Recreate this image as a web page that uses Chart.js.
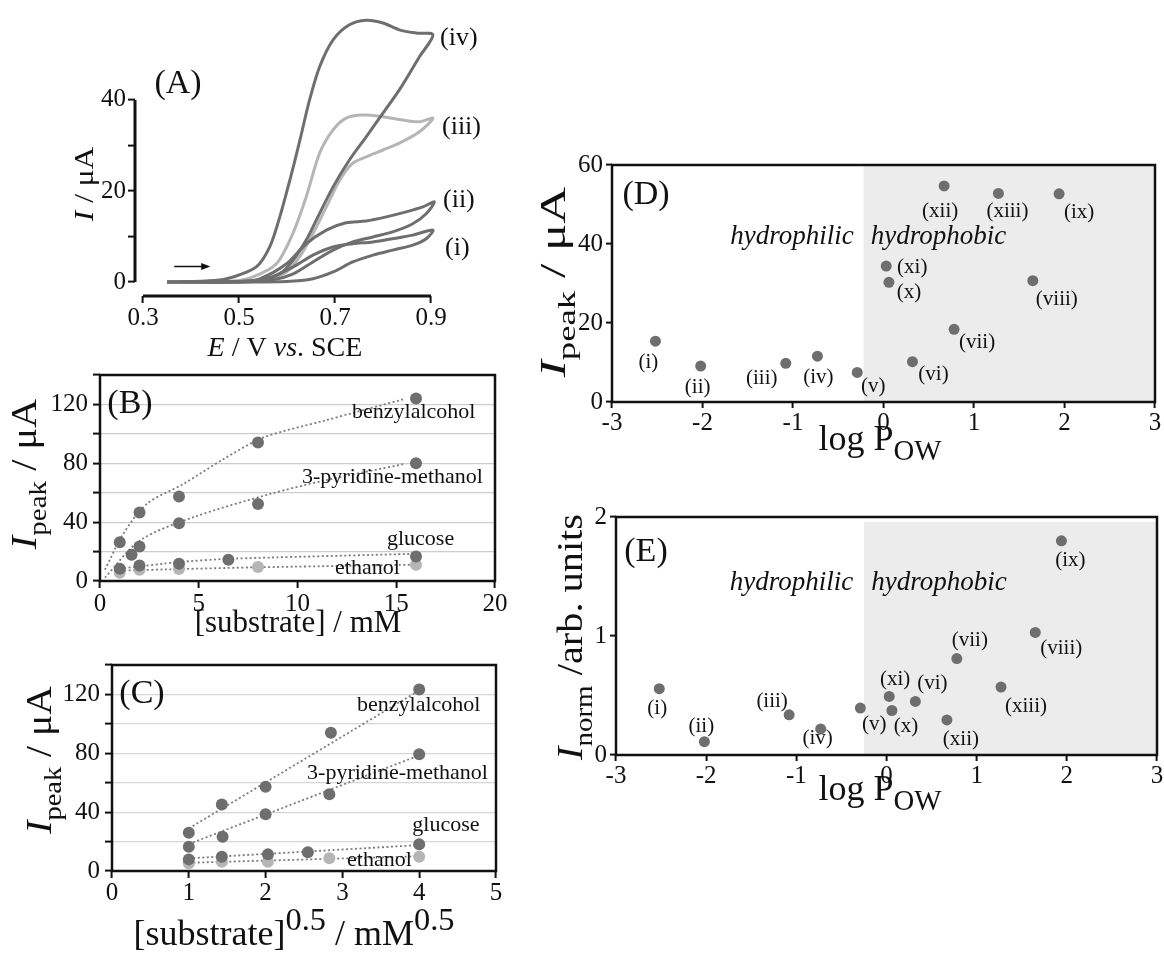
<!DOCTYPE html>
<html>
<head>
<meta charset="utf-8">
<script src="https://cdn.jsdelivr.net/npm/chart.js@4.4.1/dist/chart.umd.min.js"></script>
<style>
  html, body { margin: 0; padding: 0; background: #fff; }
  #fig { position: relative; width: 1164px; height: 953px; overflow: hidden; background: #fff; }
  #fig canvas { position: absolute; left: 0; top: 0; }
</style>
</head>
<body>
<div id="fig">
  <canvas id="cA" width="1164" height="953"></canvas>
  <canvas id="cB" width="1164" height="953"></canvas>
  <canvas id="cC" width="1164" height="953"></canvas>
  <canvas id="cD" width="1164" height="953"></canvas>
  <canvas id="cE" width="1164" height="953"></canvas>
</div>
<script>
/* ---------- data ---------- */

/* (A) cyclic voltammograms, forward sweep then reverse sweep */
var CV1_E = [0.35, 0.5, 0.557, 0.613, 0.654, 0.696, 0.737, 0.779, 0.82, 0.862, 0.904, 0.89, 0.862, 0.82, 0.779, 0.737, 0.696, 0.654, 0.599, 0.5, 0.35];
var CV1_I = [0, 0.1, 0.7, 3.3, 5.9, 7.7, 8.4, 8.8, 9.5, 10.3, 11.4, 9.5, 8.1, 7.0, 5.9, 4.4, 2.2, 0.7, 0.1, 0, 0];
var CV2_E = [0.35, 0.5, 0.543, 0.599, 0.64, 0.682, 0.723, 0.765, 0.807, 0.848, 0.883, 0.907, 0.89, 0.862, 0.82, 0.779, 0.737, 0.696, 0.654, 0.613, 0.571, 0.5, 0.35];
var CV2_I = [0, 0.1, 0.7, 4.0, 8.4, 11.4, 13.0, 13.4, 14.3, 15.4, 16.5, 17.6, 15.0, 12.8, 11.0, 9.9, 8.8, 7.0, 4.4, 1.8, 0.5, 0, 0];
var CV3_E = [0.35, 0.488, 0.529, 0.578, 0.612, 0.64, 0.668, 0.696, 0.723, 0.758, 0.8, 0.834, 0.876, 0.904, 0.876, 0.834, 0.8, 0.765, 0.737, 0.71, 0.682, 0.654, 0.626, 0.599, 0.557, 0.488, 0.35];
var CV3_I = [0, 0.2, 1.1, 4.0, 10.6, 18.7, 28.3, 33.4, 36.0, 36.7, 36.3, 35.7, 35.2, 36.0, 33.0, 30.5, 29.0, 27.5, 26.1, 22.4, 16.5, 10.6, 5.5, 2.2, 0.5, 0, 0];
var CV4_E = [0.35, 0.45, 0.488, 0.536, 0.564, 0.585, 0.606, 0.627, 0.647, 0.668, 0.696, 0.73, 0.765, 0.8, 0.834, 0.869, 0.904, 0.876, 0.834, 0.8, 0.765, 0.73, 0.696, 0.661, 0.64, 0.613, 0.585, 0.543, 0.488, 0.35];
var CV4_I = [0, 0.3, 1.1, 3.3, 7.7, 14.3, 22.4, 31.2, 40, 47.3, 53.2, 56.5, 57.5, 56.9, 55.4, 54.7, 54.3, 49.5, 42.2, 37.1, 31.9, 26.8, 20.9, 13.6, 9.2, 4.8, 1.8, 0.4, 0, 0];
var CV_LABELS = ['(i)', '(ii)', '(iii)', '(iv)'];
var A_X_TICKS = [0.3, 0.5, 0.7, 0.9];
var A_Y_TICKS = [0, 10, 20, 30, 40];

/* (B) peak current vs concentration */
var SUBSTRATES = ['benzylalcohol', '3-pyridine-methanol', 'glucose', 'ethanol'];
var B_BENZ_X = [1, 2, 4, 8, 16],   B_BENZ_Y = [26.4, 46.6, 57.4, 94.2, 124];
var B_PYR_X = [1.6, 2, 4, 8, 16],  B_PYR_Y = [17.9, 23.5, 39.3, 52.4, 80];
var B_GLU_X = [1, 2, 4, 6.5, 16],  B_GLU_Y = [8.4, 10.6, 11.8, 14.5, 16.7];
var B_ETH_X = [1, 2, 4, 8, 16],    B_ETH_Y = [5.6, 7.7, 8.1, 9.5, 11.1];
/* dotted guide curves */
var B_BENZ_FIT_X = [0.25, 1.18, 2.37, 4.23, 6.26, 8.29, 11.34, 15.4];
var B_BENZ_FIT_Y = [7.7, 32.1, 52.4, 66.0, 82.9, 97.6, 108.9, 123.6];
var B_PYR_FIT_X = [0.25, 2.03, 4.74, 8.63, 11.34, 15.4];
var B_PYR_FIT_Y = [2.3, 27.6, 43.4, 59.2, 68.2, 79.5];
var B_GLU_FIT_X = [1, 4, 6.5, 16], B_GLU_FIT_Y = [8.4, 12.9, 15.1, 18.5];
var B_ETH_FIT_X = [1, 4, 8, 16],   B_ETH_FIT_Y = [7.0, 8.1, 9.3, 11.1];

/* (C) peak current vs sqrt(concentration) */
var C_BENZ_X = [1, 1.43, 2, 2.85, 4],    C_BENZ_Y = [26.0, 45.2, 57.2, 94.0, 123.4];
var C_PYR_X = [1, 1.44, 2, 2.83, 4],     C_PYR_Y = [16.5, 23.3, 38.6, 52.2, 79.3];
var C_GLU_X = [1, 1.43, 2.03, 2.55, 4],  C_GLU_Y = [7.9, 9.7, 11.3, 12.7, 18.1];
var C_ETH_X = [1, 1.43, 2.03, 2.83, 4],  C_ETH_Y = [5.2, 6.3, 6.3, 8.6, 9.7];
var C_BENZ_FIT_Y = [28.9, 122.7], C_PYR_FIT_Y = [18.3, 78.6];
var C_GLU_FIT_Y = [8.6, 17.6],    C_ETH_FIT_Y = [5.6, 10.0];
var C_FIT_X = [1, 4];

/* (D)/(E) vs log P_OW */
var COMPOUNDS = ['(i)', '(ii)', '(iii)', '(iv)', '(v)', '(vi)', '(vii)', '(viii)', '(ix)', '(x)', '(xi)', '(xii)', '(xiii)'];
var LOG_POW = [-2.52, -2.02, -1.08, -0.73, -0.29, 0.32, 0.78, 1.65, 1.94, 0.06, 0.03, 0.67, 1.27];
var D_IPEAK = [15.4, 9.1, 9.8, 11.6, 7.5, 10.2, 18.4, 30.7, 52.7, 30.3, 34.4, 54.7, 52.8];
var E_INORM = [0.557, 0.112, 0.338, 0.219, 0.394, 0.45, 0.81, 1.03, 1.80, 0.374, 0.492, 0.295, 0.571];

/* ---------- look ---------- */
var W = 1164, H = 953;
var SERIF = '"Liberation Serif", "Times New Roman", serif';
var INK = '#111111';
var DARK = '#6e6e6e';
var LIGHT = '#b5b5b5';
var GUIDE = '#7c7c7c';
var SHADE = '#ececec';

function pts(xs, ys) {
  return xs.map(function (x, i) { return { x: x, y: ys[i] }; });
}

function curve(xs, ys, color) {
  return { data: pts(xs, ys), showLine: true, pointRadius: 0, borderColor: color,
           borderWidth: 3, tension: 0.3, clip: false, borderJoinStyle: 'round' };
}
function dots(xs, ys, color, r) {
  return { data: pts(xs, ys), pointRadius: r || 6, pointBackgroundColor: color,
           pointBorderWidth: 0, borderWidth: 0, clip: false };
}
function guide(xs, ys, tension) {
  return { data: pts(xs, ys), showLine: true, pointRadius: 0, borderColor: GUIDE,
           borderWidth: 1.8, borderDash: [2, 2.5], tension: tension || 0 };
}

function scale(o) {
  var s = {
    type: 'linear', min: o.min, max: o.max,
    border: { display: false },
    grid: { display: true, drawOnChartArea: !!o.gridColor, color: o.gridColor || 'rgba(0,0,0,0)',
            lineWidth: 1.2, drawTicks: true, tickLength: o.tickLength || 7,
            tickColor: INK, tickWidth: 2 },
    ticks: { stepSize: o.step, autoSkip: false, maxRotation: 0, minRotation: 0,
             padding: o.pad == null ? 3 : o.pad, color: INK,
             font: { family: SERIF, size: o.font || 25 } }
  };
  if (o.cb) s.ticks.callback = o.cb;
  if (o.list) s.afterBuildTicks = function (sc) {
    sc.ticks = o.list.map(function (v) { return { value: v }; });
  };
  return s;
}

/* extras drawn on top of the library's scales: frames, shading, notes, rich titles */
function richText(ctx, t) {
  ctx.save();
  ctx.translate(t.x, t.y);
  if (t.rot) ctx.rotate(-Math.PI / 2);
  ctx.scale(t.sx || 1, 1);
  ctx.fillStyle = INK;
  ctx.textBaseline = t.mid ? 'middle' : 'alphabetic';
  ctx.textAlign = 'left';
  var segs = t.parts.map(function (p) {
    var sz = (p.sub || p.sup) ? t.size * (t.subScale || 0.72) : t.size;
    var font = (p.it ? 'italic ' : '') + sz + 'px ' + SERIF;
    ctx.font = font;
    return { p: p, font: font, w: ctx.measureText(p.t).width,
             dy: p.sub ? t.size * 0.28 : (p.sup ? -t.size * 0.42 : 0) };
  });
  var total = segs.reduce(function (a, s) { return a + s.w; }, 0);
  var x = -total / 2;
  segs.forEach(function (s) {
    ctx.font = s.font;
    ctx.fillText(s.p.t, x, s.dy);
    x += s.w;
  });
  ctx.restore();
}

Chart.register({
  id: 'figExtras',
  beforeDatasetsDraw: function (chart) {
    var f = chart.$fig; if (!f || !f.shade) return;
    var xs = chart.scales.x, ys = chart.scales.y, ctx = chart.ctx, s = f.shade;
    var x0 = xs.getPixelForValue(s.x0), x1 = xs.getPixelForValue(s.x1);
    var y0 = ys.getPixelForValue(s.y0), y1 = ys.getPixelForValue(s.y1);
    ctx.save();
    ctx.fillStyle = SHADE;
    ctx.fillRect(x0, y1, x1 - x0, y0 - y1);
    ctx.restore();
  },
  afterDatasetsDraw: function (chart) {
    var f = chart.$fig; if (!f) return;
    var ctx = chart.ctx, a = chart.chartArea, xs = chart.scales.x, ys = chart.scales.y;
    ctx.save();
    ctx.strokeStyle = INK;
    ctx.lineCap = 'butt';
    if (f.frame) {
      ctx.lineWidth = 2.5;
      ctx.strokeRect(a.left, a.top, a.right - a.left, a.bottom - a.top);
    }
    if (f.axes) {
      ctx.lineWidth = 3;
      ctx.beginPath();
      ctx.moveTo(a.left, ys.getPixelForValue(f.axes.y0));
      ctx.lineTo(a.left, ys.getPixelForValue(f.axes.y1));
      ctx.moveTo(xs.getPixelForValue(f.axes.x0), a.bottom);
      ctx.lineTo(xs.getPixelForValue(f.axes.x1), a.bottom);
      ctx.stroke();
    }
    if (f.arrow) {
      var ax0 = xs.getPixelForValue(f.arrow.x0), ax1 = xs.getPixelForValue(f.arrow.x1);
      var ay = ys.getPixelForValue(f.arrow.y);
      ctx.lineWidth = 1.6;
      ctx.beginPath(); ctx.moveTo(ax0, ay); ctx.lineTo(ax1 - 2, ay); ctx.stroke();
      ctx.fillStyle = INK;
      ctx.beginPath(); ctx.moveTo(ax1, ay); ctx.lineTo(ax1 - 9, ay - 3.5); ctx.lineTo(ax1 - 9, ay + 3.5);
      ctx.closePath(); ctx.fill();
    }
    (f.notes || []).forEach(function (n) {
      ctx.font = (n.it ? 'italic ' : '') + n.size + 'px ' + SERIF;
      ctx.fillStyle = INK;
      ctx.textAlign = n.align || 'center';
      ctx.textBaseline = 'middle';
      ctx.fillText(n.text, xs.getPixelForValue(n.x) + (n.dx || 0), ys.getPixelForValue(n.y) + (n.dy || 0));
    });
    ctx.restore();
    (f.titles || []).forEach(function (t) { richText(ctx, t); });
  }
});

function panel(id, area, xScale, yScale, datasets, fig) {
  xScale.afterFit = function (s) { s.height = H - area.bottom; };
  yScale.afterFit = function (s) { s.width = area.left; };
  var chart = new Chart(document.getElementById(id).getContext('2d'), {
    type: 'scatter',
    data: { datasets: datasets },
    options: {
      responsive: false, animation: false, events: [],
      layout: { padding: { left: 0, top: area.top, right: W - area.right, bottom: 0 } },
      plugins: { legend: { display: false }, tooltip: { enabled: false } },
      scales: { x: xScale, y: yScale }
    }
  });
  chart.$fig = fig;
  chart.draw();
  return chart;
}

var IPEAK_TITLE = [{ t: 'I', it: true }, { t: 'peak', sub: true }, { t: ' / μA' }];
var LOGP_TITLE = [{ t: 'log P' }, { t: 'OW', sub: true }];

/* ---------- (A) ---------- */
panel('cA', { left: 135, right: 431, top: 18, bottom: 296 },
  scale({ min: 0.2833, max: 0.9, list: A_X_TICKS, pad: 0, cb: function (v) { return v.toFixed(1); } }),
  scale({ min: -3.08, max: 58, list: A_Y_TICKS, pad: 2, cb: function (v) { return v % 20 === 0 ? String(v) : ''; } }),
  [curve(CV1_E, CV1_I, DARK), curve(CV2_E, CV2_I, DARK), curve(CV4_E, CV4_I, DARK), curve(CV3_E, CV3_I, LIGHT)],
  {
    axes: { y0: 0, y1: 40, x0: 0.3, x1: 0.9 },
    arrow: { x0: 0.365, x1: 0.44, y: 3.4 },
    notes: [
      { x: 0.9, y: 7.5, text: CV_LABELS[0], dx: 14, size: 26, align: 'left' },
      { x: 0.9, y: 18, text: CV_LABELS[1], dx: 12, size: 26, align: 'left' },
      { x: 0.9, y: 34, text: CV_LABELS[2], dx: 11, size: 26, align: 'left' },
      { x: 0.9, y: 53.6, text: CV_LABELS[3], dx: 9, size: 26, align: 'left' }
    ],
    titles: [
      { x: 178, y: 84, size: 34, mid: true, parts: [{ t: '(A)' }] },
      { x: 93, y: 184, rot: true, size: 28, sx: 1.12, parts: [{ t: 'I', it: true }, { t: ' / μA' }] },
      { x: 285, y: 356, size: 28, parts: [{ t: 'E', it: true }, { t: ' / V ' }, { t: 'vs', it: true }, { t: '. SCE' }] }
    ]
  });

/* ---------- (B) ---------- */
var b40 = function (v) { return v % 40 === 0 ? String(v) : ''; };
panel('cB', { left: 100, right: 495, top: 375, bottom: 581 },
  scale({ min: 0, max: 20, step: 5, pad: 1 }),
  scale({ min: 0, max: 140, step: 20, pad: 5, gridColor: '#cdcdcd', cb: b40 }),
  [
    dots(B_BENZ_X, B_BENZ_Y, DARK), dots(B_PYR_X, B_PYR_Y, DARK), dots(B_GLU_X, B_GLU_Y, DARK),
    dots(B_ETH_X, B_ETH_Y, LIGHT),
    guide(B_BENZ_FIT_X, B_BENZ_FIT_Y, 0.3), guide(B_PYR_FIT_X, B_PYR_FIT_Y, 0.3),
    guide(B_GLU_FIT_X, B_GLU_FIT_Y, 0.2), guide(B_ETH_FIT_X, B_ETH_FIT_Y, 0.2)
  ],
  {
    frame: true,
    notes: [
      { x: 12.76, y: 114.9, text: SUBSTRATES[0], size: 22, align: 'left' },
      { x: 10.23, y: 70.7, text: SUBSTRATES[1], size: 22, align: 'left' },
      { x: 14.53, y: 28.5, text: SUBSTRATES[2], size: 22, align: 'left' },
      { x: 11.9, y: 8.8, text: SUBSTRATES[3], size: 22, align: 'left' }
    ],
    titles: [
      { x: 130, y: 404, size: 34, mid: true, parts: [{ t: '(B)' }] },
      { x: 36, y: 474, rot: true, size: 36, sx: 1.12, parts: IPEAK_TITLE },
      { x: 298, y: 632, size: 31, parts: [{ t: '[substrate] / mM' }] }
    ]
  });

/* ---------- (C) ---------- */
panel('cC', { left: 112, right: 496, top: 665, bottom: 871 },
  scale({ min: 0, max: 5, step: 1, pad: 0 }),
  scale({ min: 0, max: 140, step: 20, pad: 5, gridColor: '#d6d6d6', cb: b40 }),
  [
    dots(C_BENZ_X, C_BENZ_Y, DARK), dots(C_PYR_X, C_PYR_Y, DARK), dots(C_GLU_X, C_GLU_Y, DARK),
    dots(C_ETH_X, C_ETH_Y, LIGHT),
    guide(C_FIT_X, C_BENZ_FIT_Y), guide(C_FIT_X, C_PYR_FIT_Y),
    guide(C_FIT_X, C_GLU_FIT_Y), guide(C_FIT_X, C_ETH_FIT_Y)
  ],
  {
    frame: true,
    notes: [
      { x: 3.19, y: 112.8, text: SUBSTRATES[0], size: 22, align: 'left' },
      { x: 2.54, y: 66.6, text: SUBSTRATES[1], size: 22, align: 'left' },
      { x: 3.91, y: 31.3, text: SUBSTRATES[2], size: 22, align: 'left' },
      { x: 3.06, y: 7.5, text: SUBSTRATES[3], size: 22, align: 'left' }
    ],
    titles: [
      { x: 142, y: 694, size: 34, mid: true, parts: [{ t: '(C)' }] },
      { x: 51, y: 760, rot: true, size: 36, sx: 1.1, parts: IPEAK_TITLE },
      { x: 294, y: 945, size: 36, subScale: 0.9,
        parts: [{ t: '[substrate]' }, { t: '0.5', sup: true }, { t: ' / mM' }, { t: '0.5', sup: true }] }
    ]
  });

/* ---------- (D) ---------- */
var D_OFF = [[-7, 21], [-3, 21], [-24, 15], [1, 21], [16, 14], [21, 13], [23, 13], [24, 19], [20, 19], [20, 10], [26, 1], [-4, 26], [9, 18]];
panel('cD', { left: 612, right: 1155, top: 165, bottom: 402 },
  scale({ min: -3, max: 3, step: 1, pad: 0, tickLength: 6 }),
  scale({ min: 0, max: 60, step: 20, pad: 3, tickLength: 6 }),
  [dots(LOG_POW, D_IPEAK, DARK, 5.5)],
  {
    frame: true,
    shade: { x0: -0.22, x1: 3, y0: 0, y1: 60 },
    notes: COMPOUNDS.map(function (c, i) {
      return { x: LOG_POW[i], y: D_IPEAK[i], text: c, dx: D_OFF[i][0], dy: D_OFF[i][1], size: 21 };
    }).concat([
      { x: -0.33, y: 41.8, text: 'hydrophilic', it: true, size: 27, align: 'right' },
      { x: -0.14, y: 41.8, text: 'hydrophobic', it: true, size: 27, align: 'left' }
    ]),
    titles: [
      { x: 646, y: 195, size: 34, mid: true, parts: [{ t: '(D)' }] },
      { x: 565, y: 282, rot: true, size: 36, sx: 1.42, parts: IPEAK_TITLE },
      { x: 880, y: 450, size: 36, subScale: 0.8, parts: LOGP_TITLE }
    ]
  });

/* ---------- (E) ---------- */
var E_OFF = [[-2, 20], [-3, -15], [-17, -13], [-3, 10], [14, 16], [17, -18], [13, -18], [26, 16], [9, 20], [14, 16], [6, -17], [14, 20], [25, 19]];
panel('cE', { left: 616, right: 1157, top: 517, bottom: 755 },
  scale({ min: -3, max: 3, step: 1, pad: 0, tickLength: 6 }),
  scale({ min: 0, max: 2, step: 1, pad: 3, tickLength: 6 }),
  [dots(LOG_POW, E_INORM, DARK, 5.5)],
  {
    frame: true,
    shade: { x0: -0.25, x1: 3, y0: 0, y1: 1.96 },
    notes: COMPOUNDS.map(function (c, i) {
      return { x: LOG_POW[i], y: E_INORM[i], text: c, dx: E_OFF[i][0], dy: E_OFF[i][1], size: 21 };
    }).concat([
      { x: -0.37, y: 1.45, text: 'hydrophilic', it: true, size: 27, align: 'right' },
      { x: -0.17, y: 1.45, text: 'hydrophobic', it: true, size: 27, align: 'left' }
    ]),
    titles: [
      { x: 646, y: 552, size: 34, mid: true, parts: [{ t: '(E)' }] },
      { x: 582, y: 637, rot: true, size: 36, sx: 1.12, parts: [{ t: 'I', it: true }, { t: 'norm', sub: true }, { t: ' /arb. units' }] },
      { x: 880, y: 800, size: 36, subScale: 0.8, parts: LOGP_TITLE }
    ]
  });
</script>
</body>
</html>
